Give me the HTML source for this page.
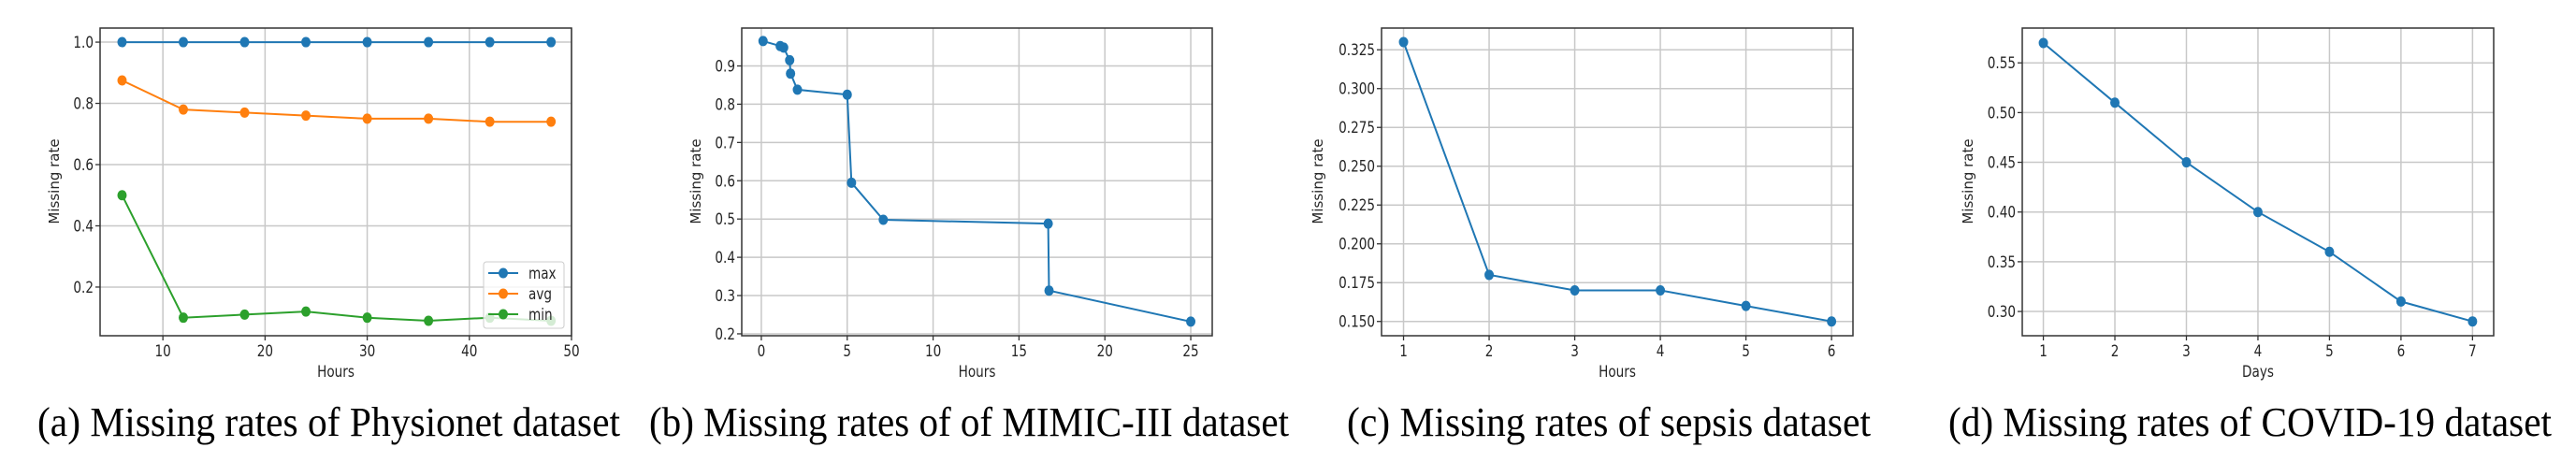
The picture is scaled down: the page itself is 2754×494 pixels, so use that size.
<!DOCTYPE html>
<html><head><meta charset="utf-8"><style>
html,body{margin:0;padding:0;background:#fff;}
svg{display:block;}
text{font-family:"DejaVu Sans","Liberation Sans",sans-serif;fill:#262626;}
.cap{font-family:"Liberation Serif",serif;fill:#000;}
</style></head><body>
<svg id="fig" width="2754" height="494" viewBox="0 0 2754 494" xmlns="http://www.w3.org/2000/svg"></svg>
<script>
// Chart (a) Physionet
const aHours = [6, 12, 18, 24, 30, 36, 42, 48];
const aMax = [1.0, 1.0, 1.0, 1.0, 1.0, 1.0, 1.0, 1.0];
const aAvg = [0.875, 0.78, 0.77, 0.76, 0.75, 0.75, 0.74, 0.74];
const aMin = [0.5, 0.1, 0.11, 0.12, 0.1, 0.09, 0.1, 0.09];
const aXTicks = [10, 20, 30, 40, 50];
const aYTicks = [0.2, 0.4, 0.6, 0.8, 1.0];
const aYLabels = ["0.2", "0.4", "0.6", "0.8", "1.0"];
// Chart (b) MIMIC-III
const bHours = [0.1, 1.1, 1.3, 1.65, 1.7, 2.1, 5.0, 5.25, 7.1, 16.7, 16.75, 25.0];
const bRate = [0.965, 0.952, 0.948, 0.915, 0.88, 0.838, 0.825, 0.595, 0.498, 0.488, 0.313, 0.232];
const bXTicks = [0, 5, 10, 15, 20, 25];
const bYTicks = [0.2, 0.3, 0.4, 0.5, 0.6, 0.7, 0.8, 0.9];
const bYLabels = ["0.2", "0.3", "0.4", "0.5", "0.6", "0.7", "0.8", "0.9"];
// Chart (c) sepsis
const cHours = [1, 2, 3, 4, 5, 6];
const cRate = [0.33, 0.18, 0.17, 0.17, 0.16, 0.15];
const cXTicks = [1, 2, 3, 4, 5, 6];
const cYTicks = [0.15, 0.175, 0.2, 0.225, 0.25, 0.275, 0.3, 0.325];
const cYLabels = ["0.150", "0.175", "0.200", "0.225", "0.250", "0.275", "0.300", "0.325"];
// Chart (d) COVID-19
const dDays = [1, 2, 3, 4, 5, 6, 7];
const dRate = [0.57, 0.51, 0.45, 0.40, 0.36, 0.31, 0.29];
const dXTicks = [1, 2, 3, 4, 5, 6, 7];
const dYTicks = [0.30, 0.35, 0.40, 0.45, 0.50, 0.55];
const dYLabels = ["0.30", "0.35", "0.40", "0.45", "0.50", "0.55"];

const NS = "http://www.w3.org/2000/svg";
const fig = document.getElementById("fig");
function mk(tag, attrs, parent) {
  const e = document.createElementNS(NS, tag);
  for (const k in attrs) e.setAttribute(k, attrs[k]);
  (parent || fig).appendChild(e);
  return e;
}
const C = {blue: "#1f77b4", orange: "#ff7f0e", green: "#2ca02c"};
const SX = 0.8;
function ntext(x, y, anchor, size, str, parent) {
  const t = mk("text", {x: 0, y: 0, "text-anchor": anchor, "font-size": size, transform: "translate(" + x + "," + y + ") scale(" + SX + ",1)"}, parent);
  t.textContent = str;
  return t;
}

function chart(cfg) {
  const g = mk("g", {});
  
  
  const L = cfg.left, R = cfg.right, T = 30, B = 359;
  const sx = v => L + (v - cfg.xmin) / (cfg.xmax - cfg.xmin) * (R - L);
  const sy = v => B - (v - cfg.ymin) / (cfg.ymax - cfg.ymin) * (B - T);
  cfg.xTicks.forEach(t => {
    const x = sx(t);
    if (x < L - 0.5 || x > R + 0.5) return;
    const ln = mk("line", {x1: x, x2: x, y1: T, y2: B, stroke: "#c8c8c8", "stroke-width": 1.5}, g);
    
    
    const tk = mk("line", {x1: x, x2: x, y1: B, y2: B + 5, stroke: "#333", "stroke-width": 1.3}, g);
    
    
    const tx = ntext(x, 381, "middle", 17, String(t), g);
    
    
  });
  cfg.yTicks.forEach((t, i) => {
    const y = sy(t);
    const ln = mk("line", {x1: L, x2: R, y1: y, y2: y, stroke: "#c8c8c8", "stroke-width": 1.5}, g);
    
    
    const tk = mk("line", {x1: L - 5, x2: L, y1: y, y2: y, stroke: "#333", "stroke-width": 1.3}, g);
    
    
    const tx = ntext(L - 7, y + 6, "end", 17, cfg.yLabels[i], g);
    
    
  });
  cfg.series.forEach(s => {
    const pts = s.x.map((v, i) => sx(v).toFixed(1) + "," + sy(s.y[i]).toFixed(1)).join(" ");
    const pl = mk("polyline", {points: pts, fill: "none", stroke: s.color, "stroke-width": 2}, g);
    
    
    s.x.forEach((v, i) => {
      const c = mk("ellipse", {cx: sx(v), cy: sy(s.y[i]), rx: 5, ry: 5.5, fill: s.color}, g);
      
      
    });
  });
  const fr = mk("rect", {x: L, y: T, width: R - L, height: B - T, fill: "none", stroke: "#333", "stroke-width": 1.5}, g);
  
  
  const xl = ntext((L + R) / 2, 403, "middle", 17, cfg.xLabel, g);
  
  
  const yl = mk("text", {x: 0, y: 0, "text-anchor": "middle", "font-size": 15, transform: "translate(" + (cfg.ylabX + 5) + ",194) rotate(-90)"}, g);
  yl.textContent = "Missing rate";
  
  
  const cp = mk("text", {x: cfg.capX, y: 466, "font-size": 44, "textLength": cfg.capW, "lengthAdjust": "spacingAndGlyphs", class: "cap"}, g);
  cp.textContent = cfg.caption;
  
  
  return {g, sx, sy};
}

const a = chart({name: "physionet-chart", left: 107, right: 611, xmin: 3.85, xmax: 50, ymin: 0.041, ymax: 1.046,
  xTicks: aXTicks, yTicks: aYTicks, yLabels: aYLabels, xLabel: "Hours", ylabX: 58,
  series: [{name: "max", x: aHours, y: aMax, color: C.blue}, {name: "avg", x: aHours, y: aAvg, color: C.orange}, {name: "min", x: aHours, y: aMin, color: C.green}],
  caption: "(a) Missing rates of Physionet dataset", capX: 40, capW: 623});
(function () {
  const lg = mk("g", {}, a.g);
  
  
  mk("rect", {x: 517, y: 280, width: 86, height: 71, rx: 3, fill: "rgba(255,255,255,0.8)", stroke: "#ccc", "stroke-width": 1}, lg);
  [["max", C.blue], ["avg", C.orange], ["min", C.green]].forEach((e, i) => {
    const y = 292 + i * 22;
    const en = mk("g", {}, lg);
    
    
    mk("line", {x1: 522, x2: 554, y1: y, y2: y, stroke: e[1], "stroke-width": 2}, en);
    mk("ellipse", {cx: 538, cy: y, rx: 5, ry: 5.5, fill: e[1]}, en);
    ntext(565, y + 6, "start", 17, e[0], en);
  });
})();
chart({name: "mimic-chart", left: 793, right: 1296, xmin: -1.14, xmax: 26.25, ymin: 0.195, ymax: 0.999,
  xTicks: bXTicks, yTicks: bYTicks, yLabels: bYLabels, xLabel: "Hours", ylabX: 744,
  series: [{name: "mimic", x: bHours, y: bRate, color: C.blue}],
  caption: "(b) Missing rates of of MIMIC-III dataset", capX: 694, capW: 684});
chart({name: "sepsis-chart", left: 1477, right: 1981, xmin: 0.743, xmax: 6.25, ymin: 0.1408, ymax: 0.339,
  xTicks: cXTicks, yTicks: cYTicks, yLabels: cYLabels, xLabel: "Hours", ylabX: 1409,
  series: [{name: "sepsis", x: cHours, y: cRate, color: C.blue}],
  caption: "(c) Missing rates of sepsis dataset", capX: 1440, capW: 560});
chart({name: "covid-chart", left: 2162, right: 2666, xmin: 0.705, xmax: 7.296, ymin: 0.2756, ymax: 0.585,
  xTicks: dXTicks, yTicks: dYTicks, yLabels: dYLabels, xLabel: "Days", ylabX: 2104,
  series: [{name: "covid", x: dDays, y: dRate, color: C.blue}],
  caption: "(d) Missing rates of COVID-19 dataset", capX: 2083, capW: 645});
</script>
</body></html>
